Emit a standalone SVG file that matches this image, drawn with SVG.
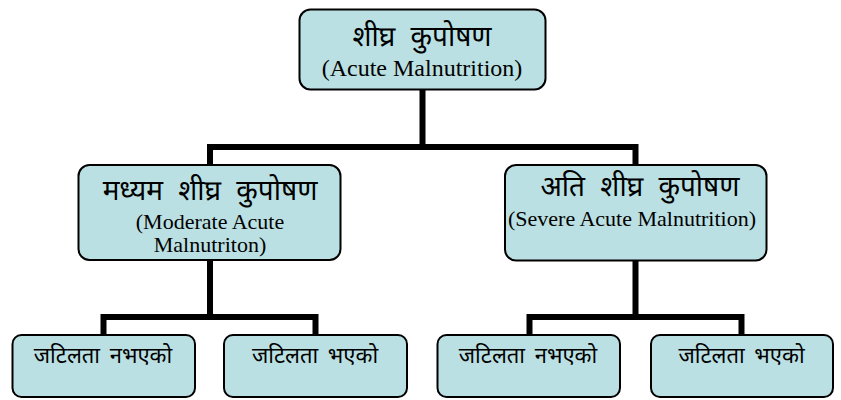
<svg xmlns="http://www.w3.org/2000/svg" width="841" height="400" viewBox="0 0 841 400">
<style>
.box{fill:#bbe0e3;stroke:#000;stroke-width:2}
.dv{font-family:"Noto Sans Devanagari","Lohit Devanagari","Noto Sans","DejaVu Sans",sans-serif;font-size:28px;word-spacing:8px;fill:#000;text-anchor:middle}
.dvs{font-size:22px;word-spacing:4px}
.en{font-family:"Liberation Serif","Times New Roman",serif;font-size:22px;fill:#000;text-anchor:middle}
.en24{font-size:24px}
.conn{fill:none;stroke:#000;stroke-width:6;stroke-linejoin:miter}
</style>
<rect width="841" height="400" fill="#fff"/>
<g id="connectors">
<path class="conn" d="M422.5,90 V147 M210,260 V147 H635.5 V165"/>
<path class="conn" d="M210,260 V317 M103.5,335 V317 H315.5 V335"/>
<path class="conn" d="M635.5,260 V317 M529.5,335 V317 H741.5 V335"/>
</g>
<g id="n-acute">
<rect class="box" x="299.5" y="9.5" width="246" height="80" rx="11"/>
<text class="dv" x="422" y="46">शीघ्र कुपोषण</text>
<text class="en en24" x="422" y="76">(Acute Malnutrition)</text>
</g>
<g id="n-mam">
<rect class="box" x="78.5" y="165" width="262" height="95" rx="11"/>
<text class="dv" x="210" y="200">मध्यम शीघ्र कुपोषण</text>
<text class="en" x="210" y="228.5">(Moderate Acute</text>
<text class="en" x="210" y="252">Malnutriton)</text>
</g>
<g id="n-sam">
<rect class="box" x="505" y="165" width="261.5" height="95.5" rx="11"/>
<text class="dv" x="640" y="196">अति शीघ्र कुपोषण</text>
<text class="en" x="632" y="226">(Severe Acute Malnutrition)</text>
</g>
<g id="n-mam-nocomp">
<rect class="box" x="12.5" y="335" width="182.5" height="62" rx="9"/>
<text class="dv dvs" x="103" y="363">जटिलता नभएको</text>
</g>
<g id="n-mam-comp">
<rect class="box" x="224" y="335" width="183" height="62" rx="9"/>
<text class="dv dvs" x="315" y="363">जटिलता भएको</text>
</g>
<g id="n-sam-nocomp">
<rect class="box" x="437.5" y="335" width="182.5" height="62" rx="9"/>
<text class="dv dvs" x="528" y="363">जटिलता नभएको</text>
</g>
<g id="n-sam-comp">
<rect class="box" x="651" y="335" width="182" height="62" rx="9"/>
<text class="dv dvs" x="741.5" y="363">जटिलता भएको</text>
</g>
</svg>
